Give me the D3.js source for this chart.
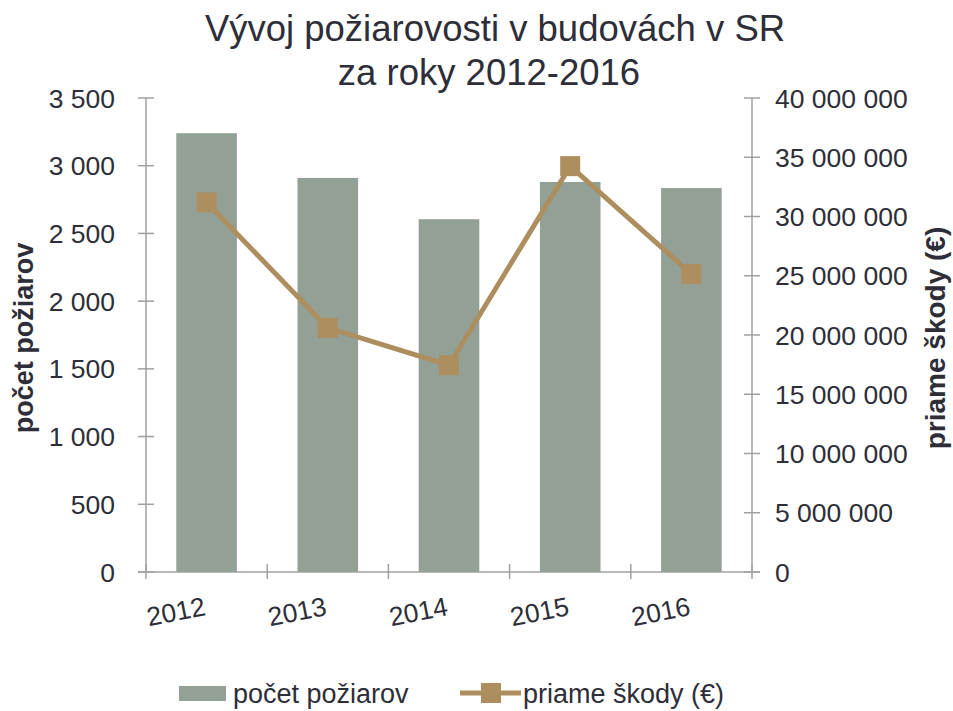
<!DOCTYPE html>
<html>
<head>
<meta charset="utf-8">
<script src="https://cdn.jsdelivr.net/npm/d3@7"></script>
<style>
  body { margin: 0; background: #fff; }
  text { font-family: "Liberation Sans", Arial, sans-serif; fill: #2e2e38; }
</style>
</head>
<body>
<svg id="chart" width="953" height="711"></svg>
<script>
// data
const years = ["2012", "2013", "2014", "2015", "2016"]
const fires = [3240, 2910, 2605, 2880, 2835]            // počet požiarov
const damages = [31200000, 20600000, 17450000, 34250000, 25150000]   // priame škody (€)
const leftTicks = [0, 500, 1000, 1500, 2000, 2500, 3000, 3500]
const rightTicks = [0, 5e6, 10e6, 15e6, 20e6, 25e6, 30e6, 35e6, 40e6]

const barColor = "#92a096"
const lineColor = "#ad8e5f"
const axisColor = "#a0a0a0"

const svg = d3.select("#chart")
const m = { left: 146, right: 752, top: 98, bottom: 572 }

const x = d3.scaleBand().domain(years).range([m.left, m.right]).paddingInner(0.5).paddingOuter(0.25)
const yL = d3.scaleLinear().domain([0, 3500]).range([m.bottom, m.top])
const yR = d3.scaleLinear().domain([0, 40e6]).range([m.bottom, m.top])
const fmt = v => d3.format(",")(v).replace(/,/g, " ")

// title
svg.append("text").attr("x", 495).attr("y", 41).attr("text-anchor", "middle")
  .style("font-size", "36.5px").text("Vývoj požiarovosti v budovách v SR")
svg.append("text").attr("x", 489).attr("y", 85).attr("text-anchor", "middle")
  .style("font-size", "36.5px").text("za roky 2012-2016")

// bars
svg.append("g").selectAll("rect").data(years).join("rect")
  .attr("x", d => x(d))
  .attr("width", x.bandwidth())
  .attr("y", (d, i) => yL(fires[i]))
  .attr("height", (d, i) => yL(0) - yL(fires[i]))
  .attr("fill", barColor)

// left axis
const gl = svg.append("g").attr("transform", `translate(${m.left},0)`)
gl.append("line").attr("y1", m.top).attr("y2", m.bottom).attr("stroke", axisColor).attr("stroke-width", 1.5)
gl.selectAll("line.t").data(leftTicks).join("line").attr("class", "t")
  .attr("x1", -8).attr("x2", 8).attr("y1", d => yL(d)).attr("y2", d => yL(d))
  .attr("stroke", axisColor).attr("stroke-width", 1.5)
gl.selectAll("text").data(leftTicks).join("text")
  .attr("x", -31).attr("y", d => yL(d)).attr("dy", "0.36em").attr("text-anchor", "end")
  .style("font-size", "26.5px").text(fmt)

// right axis
const gr = svg.append("g").attr("transform", `translate(${m.right},0)`)
gr.append("line").attr("y1", m.top).attr("y2", m.bottom).attr("stroke", axisColor).attr("stroke-width", 1.5)
gr.selectAll("line.t").data(rightTicks).join("line").attr("class", "t")
  .attr("x1", -8).attr("x2", 8).attr("y1", d => yR(d)).attr("y2", d => yR(d))
  .attr("stroke", axisColor).attr("stroke-width", 1.5)
gr.selectAll("text").data(rightTicks).join("text")
  .attr("x", 23).attr("y", d => yR(d)).attr("dy", "0.36em")
  .style("font-size", "26.5px").text(fmt)

// x axis
const step = (m.right - m.left) / years.length
const gx = svg.append("g").attr("transform", `translate(0,${m.bottom})`)
gx.append("line").attr("x1", m.left - 8).attr("x2", m.right + 8).attr("stroke", axisColor).attr("stroke-width", 1.5)
gx.selectAll("line.t").data(d3.range(years.length + 1)).join("line").attr("class", "t")
  .attr("x1", i => m.left + i * step).attr("x2", i => m.left + i * step)
  .attr("y1", -8).attr("y2", 7).attr("stroke", axisColor).attr("stroke-width", 1.5)
gx.selectAll("text").data(years).join("text")
  .attr("text-anchor", "end")
  .attr("transform", d => `translate(${x(d) + x.bandwidth() / 2},43) rotate(-11)`)
  .style("font-size", "26.5px").text(d => d)

// line series
const line = d3.line().x(d => x(d.year) + x.bandwidth() / 2).y(d => yR(d.v))
const pts = years.map((y, i) => ({ year: y, v: damages[i] }))
svg.append("path").datum(pts).attr("d", line)
  .attr("fill", "none").attr("stroke", lineColor).attr("stroke-width", 5)
svg.append("g").selectAll("rect").data(pts).join("rect")
  .attr("x", d => x(d.year) + x.bandwidth() / 2 - 10)
  .attr("y", d => yR(d.v) - 10)
  .attr("width", 20).attr("height", 20).attr("fill", lineColor)

// axis titles
svg.append("text").attr("transform", "translate(33,338) rotate(-90)").attr("text-anchor", "middle")
  .style("font-size", "27px").style("font-weight", "bold").text("počet požiarov")
svg.append("text").attr("transform", "translate(945,338) rotate(-90)").attr("text-anchor", "middle")
  .style("font-size", "28px").style("font-weight", "bold").text("priame škody (€)")

// legend
const lg = svg.append("g")
lg.append("rect").attr("x", 179).attr("y", 686).attr("width", 47).attr("height", 15).attr("fill", barColor)
lg.append("text").attr("x", 233).attr("y", 703).style("font-size", "27px").text("počet požiarov")
lg.append("line").attr("x1", 460).attr("x2", 521).attr("y1", 693).attr("y2", 693)
  .attr("stroke", lineColor).attr("stroke-width", 5)
lg.append("rect").attr("x", 481).attr("y", 683).attr("width", 20).attr("height", 20).attr("fill", lineColor)
lg.append("text").attr("x", 523).attr("y", 703).style("font-size", "27px").text("priame škody (€)")
</script>
</body>
</html>
